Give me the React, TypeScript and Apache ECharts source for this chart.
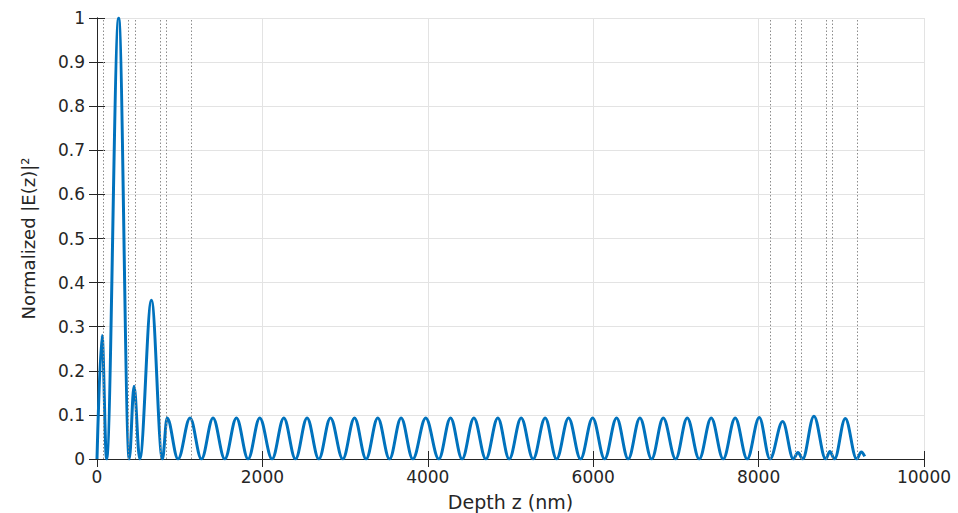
import { useEffect, useRef } from "react";
import * as echarts from "echarts";

// Depth positions (nm) of the curve's extrema
const depthNm = [
  0, 61, 116, 262, 390, 448, 517, 658, 791, 848, 980, 1125, 1263, 1403, 1545, 1686, 1827, 1968,
  2117, 2259, 2400, 2540, 2682, 2823, 2972, 3114, 3254, 3395, 3537, 3677, 3819, 3975, 4133, 4275,
  4415, 4557, 4702, 4847, 4984, 5129, 5274, 5419, 5557, 5702, 5847, 5993, 6138, 6283, 6423, 6565,
  6706, 6847, 6997, 7137, 7282, 7427, 7572, 7717, 7862, 8008, 8137, 8291, 8420, 8476, 8533, 8669,
  8811, 8862, 8918, 9048, 9186, 9242, 9283,
];
// Normalized |E(z)|^2 at those depths
const fieldIntensity = [
  0, 0.28, 0, 1.0, 0, 0.165, 0, 0.36, 0, 0.093, 0, 0.093, 0, 0.093, 0, 0.093, 0, 0.093,
  0, 0.093, 0, 0.093, 0, 0.093, 0, 0.093, 0, 0.093, 0, 0.093, 0, 0.093, 0, 0.093,
  0, 0.093, 0, 0.093, 0, 0.093, 0, 0.093, 0, 0.093, 0, 0.093, 0, 0.093, 0, 0.093,
  0, 0.093, 0, 0.093, 0, 0.093, 0, 0.093, 0, 0.094, 0, 0.085, 0, 0.015, 0, 0.097,
  0, 0.017, 0, 0.092, 0, 0.016, 0.006,
];
// Layer interfaces (nm), drawn as dotted vertical lines
const layerBoundariesNm = [80, 383, 463, 762, 843, 1145, 8143, 8446, 8521, 8820, 8896, 9198];

const xTicks = [0, 2000, 4000, 6000, 8000, 10000];
const yTicks = [0, 0.1, 0.2, 0.3, 0.4, 0.5, 0.6, 0.7, 0.8, 0.9, 1];
const xTickLabels = ["0", "2000", "4000", "6000", "8000", "10000"];
const yTickLabels = ["0", "0.1", "0.2", "0.3", "0.4", "0.5", "0.6", "0.7", "0.8", "0.9", "1"];
const xTitle = "Depth z (nm)";
const yTitle = "Normalized |E(z)|²";

const AX = "#262626";
const GRID = "#e3e3e3";
const FONT = "DejaVu Sans";

export default function App() {
  const ref = useRef<HTMLDivElement>(null);
  useEffect(() => {
    if (!ref.current) return;
    const chart = echarts.init(ref.current, undefined, { renderer: "svg" });
    const xInt = xTicks[1] - xTicks[0];
    const yInt = yTicks[1] - yTicks[0];
    const xLab = (v: number) => {
      const i = xTicks.findIndex((t) => Math.abs(t - v) < 1e-6);
      return i >= 0 ? xTickLabels[i] : "";
    };
    const yLab = (v: number) => {
      const i = yTicks.findIndex((t) => Math.abs(t - v) < 1e-6);
      return i >= 0 ? yTickLabels[i] : "";
    };
    const common = {
      axisLine: { show: true, lineStyle: { color: AX, width: 1 } },
      axisTick: { show: true, inside: true, length: 8, lineStyle: { color: AX, width: 1 } },
    };
    chart.setOption({
      animation: false,
      backgroundColor: "#ffffff",
      grid: { left: 97, top: 18, right: 34, bottom: 54, containLabel: false, outerBoundsMode: "none" },
      xAxis: [
        {
          type: "value",
          position: "bottom",
          min: xTicks[0],
          max: xTicks[xTicks.length - 1],
          interval: xInt,
          ...common,
          axisLabel: { show: true, color: AX, fontFamily: FONT, fontSize: 17, margin: 9, formatter: xLab },
          splitLine: { show: true, lineStyle: { color: GRID, width: 1 } },
          name: xTitle,
          nameLocation: "middle",
          nameGap: 33,
          nameTextStyle: { color: AX, fontFamily: FONT, fontSize: 19 },
        },
        {
          type: "value",
          position: "top",
          min: xTicks[0],
          max: xTicks[xTicks.length - 1],
          interval: xInt,
          ...common,
          axisLabel: { show: false },
          splitLine: { show: false },
        },
      ],
      yAxis: [
        {
          type: "value",
          position: "left",
          min: yTicks[0],
          max: yTicks[yTicks.length - 1],
          interval: yInt,
          ...common,
          axisLabel: { show: true, color: AX, fontFamily: FONT, fontSize: 17, margin: 12, formatter: yLab },
          splitLine: { show: true, lineStyle: { color: GRID, width: 1 } },
          name: yTitle,
          nameLocation: "middle",
          nameGap: 60,
          nameTextStyle: { color: AX, fontFamily: FONT, fontSize: 18 },
        },
        {
          type: "value",
          position: "right",
          min: yTicks[0],
          max: yTicks[yTicks.length - 1],
          interval: yInt,
          ...common,
          axisLabel: { show: false },
          splitLine: { show: false },
        },
      ],
      series: [
        {
          type: "line",
          name: "boundaries",
          xAxisIndex: 0,
          yAxisIndex: 0,
          data: [],
          z: 1,
          silent: true,
          markLine: {
            silent: true,
            symbol: ["none", "none"],
            label: { show: false },
            lineStyle: { color: "#8c8c8c", width: 1, type: [1.5, 2] },
            data: layerBoundariesNm.map((v) => ({ xAxis: v })),
          },
        },
        {
          type: "line",
          name: "|E(z)|^2",
          xAxisIndex: 0,
          yAxisIndex: 0,
          data: depthNm.map((d, i) => [d, fieldIntensity[i]]),
          showSymbol: false,
          smooth: 0.36,
          smoothMonotone: "x",
          clip: true,
          z: 3,
          lineStyle: { color: "#0072BD", width: 3 },
        },
      ],
    });
    return () => chart.dispose();
  }, []);
  return (
    <div
      ref={ref}
      style={{ position: "fixed", left: 0, top: 0, width: 958, height: 513, background: "#fff" }}
    />
  );
}
